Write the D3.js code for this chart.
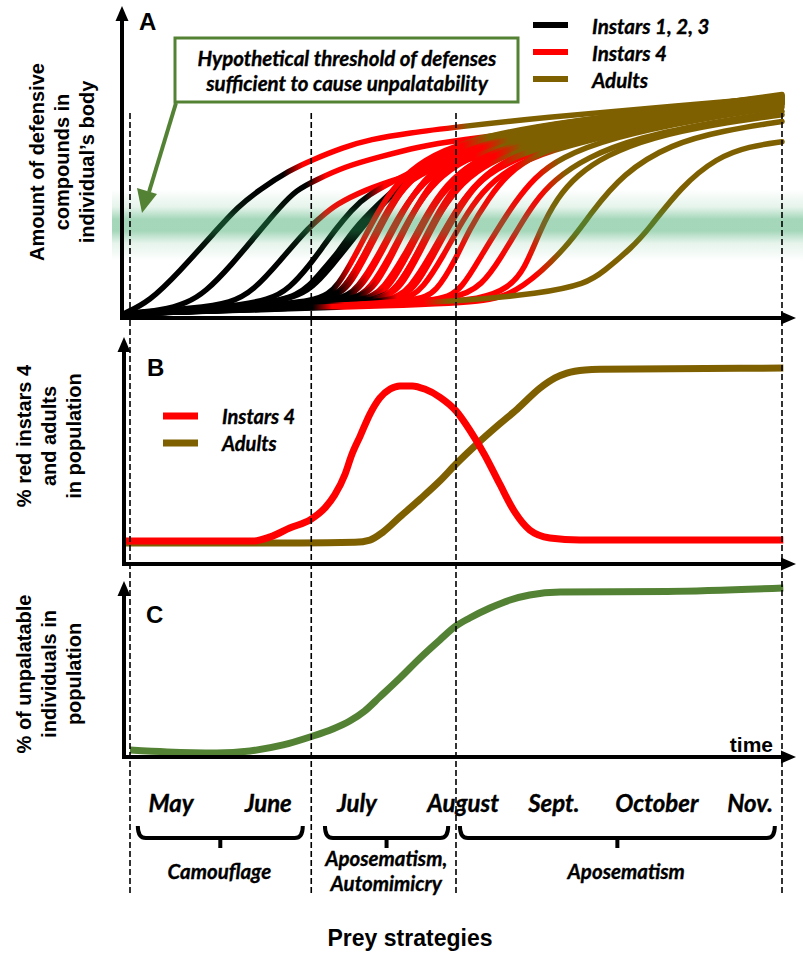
<!DOCTYPE html>
<html>
<head>
<meta charset="utf-8">
<script src="https://cdn.jsdelivr.net/npm/d3@7"></script>
<style>
  body { margin: 0; background: #fff; }
  svg { display: block; }
  .lab { font-family: "Liberation Sans", Arial, sans-serif; font-weight: bold; }
  .cal { font-family: Lato, "Open Sans", sans-serif; font-weight: bold; font-style: italic; stroke: #000; stroke-width: 0.35px; }
</style>
</head>
<body>
<div id="chart"></div>
<script>
// time runs 0..100 from start of May to end of Nov
const phaseBreaks = [0, 27.8, 50, 100];
const months = ["May", "June", "July", "August", "Sept.", "October", "Nov."];
const monthX = [6.3, 21.2, 34.8, 51.1, 65, 80.8, 95.1];
const strategyRanges = [[1.2, 26.5], [29.9, 48.8], [50.6, 98.9]];
const strategyLabels = [["Camouflage"], ["Aposematism,", "Automimicry"], ["Aposematism"]];
const strategyLabelX = [13.7, 39.3, 76.1];

// panel A: amount of defensive compounds, one curve per individual
const curvesA = [
  [[-1,0.5],[3,6],[7.5,19],[13.3,37.8],[16.5,48],[19.8,55.6],[24.5,64.4],[28,69],[32.7,74.5],[36.8,78],[42.9,81],[50,83.5],[64,88],[80,92],[100,97]],
  [[-1,0.5],[5,2],[8.7,5.3],[11.5,10],[15.5,22],[20,37.8],[23,48],[25.5,55.6],[28.5,60],[33,66],[37.9,70],[44.5,75],[50,77.5],[64,83],[80,89],[100,95]],
  [[-1,0.5],[10,3],[15.5,5.3],[19,11],[23,24],[27,37.8],[29.5,44],[31.5,49],[36,55.6],[41.4,61],[50,68],[60,75],[80,86],[100,93.5]],
  [[-1,0.5],[15,3.5],[21.5,6.7],[24.5,12],[27.5,22],[29.5,30],[31.5,38],[34,46.7],[36.2,53],[42,62],[50,73],[60,80],[80,89],[100,95.5]],
  [[-1,0.5],[19,4],[26,8],[29.2,18.7],[32,28],[34.2,37.8],[38,49],[42,60],[47,68],[52.5,74],[62,81],[80,89.5],[100,96]],
  [[-1,0.5],[20,4],[26.5,9],[28.5,14],[31,22],[34,33],[37,44],[41,56],[46,65],[52,72],[62,80],[80,88.5],[100,94.5]],
  [[-1,0.5],[16,3.5],[29,5.5],[32,13],[35,29],[38,46],[41,59],[45,69],[51,77],[64,85.5],[100,97]],
  [[-1,0.5],[17.5,3.5],[30.5,6],[33.5,13.5],[36.5,30],[39.5,47],[42.5,60],[46.5,70],[52.5,77],[65.5,85],[100,96.5]],
  [[-1,0.5],[17,3.5],[30,5.5],[33,12],[36,27],[39,44],[42,57],[46,67],[52,75],[65,84],[100,96]],
  [[-1,0.5],[18,3.5],[31,6],[34,14],[37,31],[40,48],[43,61],[47,71],[53,78],[66,86],[100,97.5]],
  [[-1,0.5],[19.5,3.5],[32.5,5.5],[35.5,12.5],[38.5,28],[41.5,45],[44.5,58],[48.5,68],[54.5,76],[67.5,84.5],[100,96]],
  [[-1,0.5],[19,3.5],[32,5.5],[35,12],[38,26],[41,43],[44,56],[48,66],[54,74],[67,83],[100,95.5]],
  [[-1,0.5],[20,3.5],[33,6],[36,14],[39,30],[42,47],[45,60],[49,70],[55,77],[68,85],[100,97]],
  [[-1,0.5],[21.5,3.5],[34.5,6],[37.5,13],[40.5,29],[43.5,46],[46.5,59],[50.5,69],[56.5,76.5],[69.5,84.5],[100,96.5]],
  [[-1,0.5],[21,3.5],[34,5.5],[37,12],[40,27],[43,44],[46,57],[50,67],[56,75],[69,83.5],[100,95]],
  [[-1,0.5],[22,3.5],[35,6],[38,14],[41,31],[44,49],[47,62],[51,71],[57,78],[70,86],[100,98]],
  [[-1,0.5],[23.5,3.5],[36.5,5.5],[39.5,12.5],[42.5,28],[45.5,45],[48.5,58],[52.5,68],[58.5,75],[71.5,83.5],[100,95.5]],
  [[-1,0.5],[23,3.5],[36,5.5],[39,12],[42,26],[45,42],[48,55],[52,65],[58,73],[71,82],[100,94.5]],
  [[-1,0.5],[24,3.5],[37,6],[40,13],[43,29],[46,46],[49,59],[53,69],[59,76],[72,84.5],[100,96]],
  [[-1,0.5],[25.5,3.5],[38.5,6],[41.5,13.5],[44.5,30],[47.5,47],[50.5,60],[54.5,69.5],[60.5,76.5],[73.5,84],[100,96.5]],
  [[-1,0.5],[25,3.5],[38,5.5],[41,12],[44,27],[47,43],[50,56],[54,66],[60,74],[73,83],[100,95]],
  [[-1,0.5],[26,3.5],[39,6],[42,14],[45,31],[48,48],[51,60],[55,70],[61,77],[74,85],[100,97]],
  [[-1,0.5],[27.5,3.5],[40.5,5.5],[43.5,12.5],[46.5,28],[49.5,44],[52.5,57],[56.5,67],[62.5,74.5],[75.5,83],[100,95]],
  [[-1,0.5],[27,3.5],[40,5.5],[43,12],[46,26],[49,42],[52,55],[56,65],[62,73],[75,82],[100,94]],
  [[-1,0.5],[28,3.5],[41,6],[44,13],[47,29],[50,45],[53,58],[57,68],[63,75],[76,84],[100,96]],
  [[-1,0.5],[29,3.5],[42,5.5],[45,12],[48,26],[51,42],[54,55],[58,65],[64,73],[77,82.5],[100,95]],
  [[-1,0.5],[30,4],[44,6],[47,10],[50,25],[52,37.8],[55,52],[58,63],[62,71],[70,80],[85,88],[100,94]],
  [[-1,0.5],[35,4.5],[48,6],[51,12],[54,27],[56.3,37.8],[59,50],[62,61],[66,70],[74,79],[87,87],[100,92.5]],
  [[-1,0.5],[40,5],[50,7],[54,13],[57,26],[59.4,37.8],[62,50],[65,60],[70,70],[78,79],[90,86],[100,90.5]],
  [[-1,0.5],[45,5],[54,7],[58,12],[60.5,20],[62.9,37.8],[65.5,52],[68.5,62],[73,71],[80,79],[90,85],[100,89]],
  [[-1,0.5],[45,4.5],[55,6],[60,11],[67,30],[70.6,45],[75.6,63],[83,76],[91,82],[100,86]],
  [[-1,0.5],[30,3.5],[50,6],[63,9.5],[70,14],[72.5,19],[77,30],[79.5,38],[84.5,57],[90,70],[95,75],[100,77]]
];
// where each curve stops being black (instars 1-3) and red (instar 4)
const blackEnd = [23.5, 27, 27, 36, 39, 40, 31, 32, 31.5, 32, 34, 33, 33.5, 35.5, 34, 35, 37, 35.5, 36, 38.5, 36, 37, 40, 37, 38, 38, 30, 30, 30, 30, 30, 28];
const redEnd   = [48, 52, 54, 55, 56, 57, 50, 52, 51, 51, 53, 52, 53, 54, 53, 54, 55, 54, 55, 56, 55, 56, 57, 60, 57, 62, 59, 62, 63, 61, 62, 45];

// panel B: % red instars 4 and adults
const instar4Pct = [[-0.9,9],[18.9,9],[21.5,11],[24.5,15.2],[27.8,19.5],[29.9,24.8],[31.4,31],[33,41],[34,50],[35.3,59],[36.8,69.5],[38.3,77.1],[39.9,81.4],[41.4,82.9],[43.3,82.9],[45.2,81.4],[47.5,77.6],[50,71],[52.1,61.9],[54.4,50],[56.7,36.2],[59,22.9],[61.3,14.3],[64.4,10.5],[69,9.5],[100.2,9.5]];
const adultsPct = [[-0.9,8.1],[26.1,8.1],[34.5,8.4],[36.8,9.5],[38.8,13.3],[41.4,20.5],[44.5,29],[47.5,37.6],[50,45.7],[53.2,55.2],[56.7,64.8],[59.4,71.9],[62.9,81.9],[65.2,86.7],[67,89],[69.8,90.5],[72.1,90.8],[100.2,91.4]];

// panel C: % unpalatable individuals
const unpalatablePct = [[0,2.9],[5.7,1.8],[13.3,1.2],[18.4,2.4],[23.5,5.9],[27.6,10.6],[31.1,15.3],[33.7,20],[36,25.9],[38.3,34.1],[41.4,45.3],[44.5,57.1],[47.5,67.6],[50,75.9],[52.1,80.6],[55.2,86.5],[58.3,91.2],[61.3,94.1],[66,95.9],[82.4,96.2],[100.2,98.2]];

const BLACK = "#000", RED = "#ff0000", BROWN = "#7f6000", GREEN = "#548235";

const W = 803, H = 953;
const svg = d3.select("#chart").append("svg").attr("width", W).attr("height", H);
const defs = svg.append("defs");

const x = d3.scaleLinear().domain([0, 100]).range([130, 782]);
const yA = d3.scaleLinear().domain([0, 100]).range([315, 90]);
const yB = d3.scaleLinear().domain([0, 100]).range([560, 350]);
const yC = d3.scaleLinear().domain([0, 100]).range([755, 585]);

// ---------- panel A curves ----------
const lineA = d3.line().x(d => x(d[0])).y(d => yA(d[1])).curve(d3.curveBasis);
const clamp = v => Math.max(0, Math.min(1, v));

curvesA.forEach((pts, i) => {
  const g = defs.append("linearGradient")
    .attr("id", "cv" + i)
    .attr("gradientUnits", "userSpaceOnUse")
    .attr("x1", x(0)).attr("x2", x(100)).attr("y1", 0).attr("y2", 0);
  const stops = [[0, BLACK], [blackEnd[i] / 100, BLACK], [(blackEnd[i] + 3) / 100, RED],
                 [redEnd[i] / 100, RED], [(redEnd[i] + 4) / 100, BROWN], [1, BROWN]];
  stops.forEach(s => g.append("stop").attr("offset", clamp(s[0])).attr("stop-color", s[1]));
});

svg.append("g").selectAll("path")
  .data(curvesA)
  .enter().append("path")
  .attr("d", lineA)
  .attr("fill", "none")
  .attr("stroke", (d, i) => `url(#cv${i})`)
  .attr("stroke-width", 5.5)
  .attr("stroke-linecap", "round");

// threshold band
const band = defs.append("linearGradient").attr("id", "band")
  .attr("x1", 0).attr("x2", 0).attr("y1", 0).attr("y2", 1);
[[0, 0], [0.25, 0.12], [0.42, 0.42], [0.58, 0.42], [0.75, 0.12], [1, 0]].forEach(s =>
  band.append("stop").attr("offset", s[0]).attr("stop-color", "#28a05a").attr("stop-opacity", s[1]));
svg.append("rect")
  .attr("x", 112).attr("width", W - 112)
  .attr("y", yA(40) - 36).attr("height", 72)
  .attr("fill", "url(#band)");

// ---------- panel B ----------
const lineB = d3.line().x(d => x(d[0])).y(d => yB(d[1])).curve(d3.curveMonotoneX);
svg.append("path").attr("d", lineB(adultsPct)).attr("fill", "none")
  .attr("stroke", BROWN).attr("stroke-width", 7);
svg.append("path").attr("d", lineB(instar4Pct)).attr("fill", "none")
  .attr("stroke", RED).attr("stroke-width", 7);

// ---------- panel C ----------
const lineC = d3.line().x(d => x(d[0])).y(d => yC(d[1])).curve(d3.curveMonotoneX);
svg.append("path").attr("d", lineC(unpalatablePct)).attr("fill", "none")
  .attr("stroke", GREEN).attr("stroke-width", 7);

// ---------- dashed phase lines ----------
svg.append("g").selectAll("line")
  .data(phaseBreaks)
  .enter().append("line")
  .attr("x1", d => x(d)).attr("x2", d => x(d))
  .attr("y1", 113).attr("y2", 896)
  .attr("stroke", "#000").attr("stroke-width", 1.6)
  .attr("stroke-dasharray", "6,3");

// ---------- axes (arrows) ----------
function axisArrow(x1, y1, x2, y2) {
  const ang = Math.atan2(y2 - y1, x2 - x1);
  const len = 15, half = 6.5;
  const bx = x2 - len * Math.cos(ang), by = y2 - len * Math.sin(ang);
  svg.append("line").attr("x1", x1).attr("y1", y1).attr("x2", bx + 2 * Math.cos(ang)).attr("y2", by + 2 * Math.sin(ang))
    .attr("stroke", "#000").attr("stroke-width", 4);
  const px = -Math.sin(ang) * half, py = Math.cos(ang) * half;
  svg.append("polygon")
    .attr("points", `${x2},${y2} ${bx + px},${by + py} ${bx - px},${by - py}`)
    .attr("fill", "#000");
}
axisArrow(122, 320, 122, 6);
axisArrow(120, 318, 796, 318);
axisArrow(124, 565, 124, 337);
axisArrow(122, 564, 796, 564);
axisArrow(124, 759, 124, 581);
axisArrow(122, 757, 796, 757);

// panel letters
svg.append("text").attr("class", "lab").attr("x", 139).attr("y", 30).attr("font-size", 24).text("A");
svg.append("text").attr("class", "lab").attr("x", 147).attr("y", 376).attr("font-size", 24).text("B");
svg.append("text").attr("class", "lab").attr("x", 146).attr("y", 623).attr("font-size", 24).text("C");
svg.append("text").attr("class", "lab").attr("x", 773).attr("y", 752).attr("font-size", 21)
  .attr("text-anchor", "end").text("time");

// y labels
function yLabel(lines, cx, cy, size) {
  const t = svg.append("text").attr("class", "lab").attr("font-size", size)
    .attr("text-anchor", "middle")
    .attr("transform", `translate(${cx},${cy}) rotate(-90)`);
  lines.forEach((l, i) => t.append("tspan").attr("x", 0).attr("y", (i - (lines.length - 1) / 2) * 25 + 7).text(l));
}
yLabel(["Amount of defensive", "compounds in", "individual\u2019s body"], 62, 162, 20);
yLabel(["% red instars 4", "and adults", "in population"], 49, 436, 20);
yLabel(["% of unpalatable", "individuals in", "population"], 49, 674, 20);

// legend A
const legA = [["Instars 1, 2, 3", BLACK], ["Instars 4", RED], ["Adults", BROWN]];
legA.forEach((d, i) => {
  const yy = [25, 52, 79][i];
  svg.append("line").attr("x1", 533).attr("x2", 568).attr("y1", yy).attr("y2", yy)
    .attr("stroke", d[1]).attr("stroke-width", 6);
  svg.append("text").attr("class", "cal").attr("x", 592).attr("y", yy + 9)
    .attr("font-size", 20.5).text(d[0]);
});

// legend B
[["Instars 4", RED], ["Adults", BROWN]].forEach((d, i) => {
  const yy = [416, 443][i];
  svg.append("line").attr("x1", 163).attr("x2", 198).attr("y1", yy).attr("y2", yy)
    .attr("stroke", d[1]).attr("stroke-width", 7);
  svg.append("text").attr("class", "cal").attr("x", 222).attr("y", yy + 8)
    .attr("font-size", 20).text(d[0]);
});

// threshold box + arrow
svg.append("rect").attr("x", 175).attr("y", 38).attr("width", 343).attr("height", 64)
  .attr("fill", "#fff").attr("stroke", GREEN).attr("stroke-width", 3);
const boxText = svg.append("text").attr("class", "cal").attr("font-size", 20.5).attr("text-anchor", "middle");
boxText.append("tspan").attr("x", 347).attr("y", 66).text("Hypothetical threshold of defenses");
boxText.append("tspan").attr("x", 347).attr("y", 91).text("sufficient to cause unpalatability");
svg.append("line").attr("x1", 176).attr("y1", 103).attr("x2", 149).attr("y2", 192)
  .attr("stroke", GREEN).attr("stroke-width", 4);
svg.append("polygon").attr("points", "142,213 137,188 157,194").attr("fill", GREEN);

// months
svg.append("g").selectAll("text")
  .data(months)
  .enter().append("text")
  .attr("class", "cal").attr("font-size", 24).attr("text-anchor", "middle")
  .attr("x", (d, i) => x(monthX[i])).attr("y", 812)
  .text(d => d);

// braces
strategyRanges.forEach((r, i) => {
  const x1 = x(r[0]), x2 = x(r[1]), xm = (x1 + x2) / 2;
  svg.append("path")
    .attr("d", `M${x1},826 Q${x1},838 ${x1 + 8},838 L${x2 - 8},838 Q${x2},838 ${x2},826 M${xm},838 L${xm},848`)
    .attr("fill", "none").attr("stroke", "#000").attr("stroke-width", 4);
  const t = svg.append("text").attr("class", "cal").attr("font-size", 20.5).attr("text-anchor", "middle");
  const lines = strategyLabels[i];
  lines.forEach((l, j) => t.append("tspan")
    .attr("x", x(strategyLabelX[i]))
    .attr("y", lines.length > 1 ? 866 + j * 25 : 879)
    .text(l));
});

svg.append("text").attr("class", "lab").attr("font-size", 23).attr("text-anchor", "middle")
  .attr("x", 410).attr("y", 946).text("Prey strategies");
</script>
</body>
</html>
